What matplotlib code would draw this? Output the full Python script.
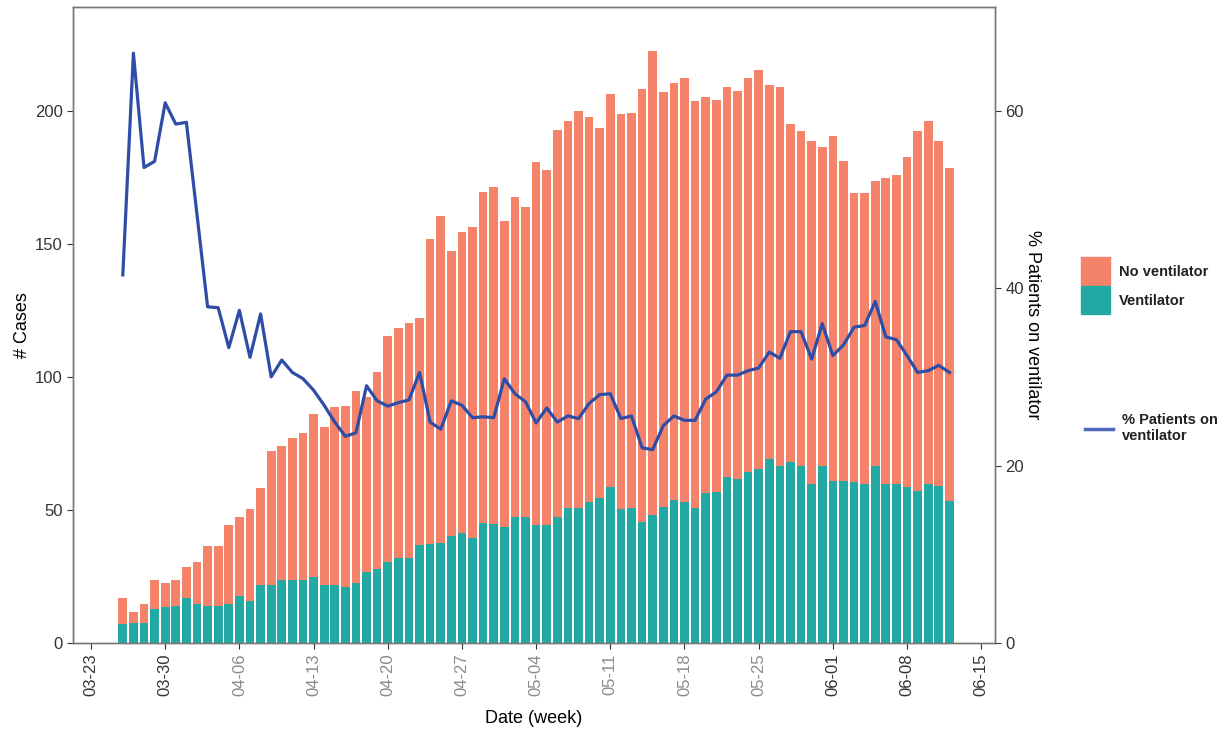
import numpy as np
import pandas as pd
import matplotlib
matplotlib.use('Agg')
import matplotlib.pyplot as plt
import matplotlib.dates as mdates
from matplotlib.patches import Patch
from matplotlib.lines import Line2D

plt.rcParams['font.family'] = ['Liberation Sans', 'DejaVu Sans']

# daily admissions: total cases and those on a ventilator
first_day = '2020-03-26'
total_cases = [17.0, 11.7, 14.5, 23.7, 22.4, 23.7, 28.5, 30.6, 36.5, 36.5,
               44.4, 47.2, 50.2, 58.1, 72.0, 74.2, 77.0, 79.0, 86.0, 81.0,
               88.5, 89.0, 94.7, 92.5, 102.0, 115.2, 118.2, 120.2, 122.3, 151.8,
               160.5, 147.4, 154.4, 156.5, 169.3, 171.5, 158.6, 167.5, 164.0, 180.6,
               177.6, 192.6, 196.2, 200.1, 197.6, 193.5, 206.4, 198.8, 199.1, 208.3,
               222.3, 207.1, 210.3, 212.4, 203.5, 205.0, 204.1, 208.8, 207.3, 212.3,
               215.2, 209.8, 209.1, 195.1, 192.5, 188.5, 186.3, 190.6, 181.3, 169.0,
               169.0, 173.8, 174.7, 175.9, 182.6, 192.5, 196.0, 188.5, 178.5]
vent_cases = [7.1, 7.6, 7.6, 12.7, 13.7, 13.9, 17.0, 14.7, 13.9, 13.9,
              14.7, 17.8, 15.9, 21.8, 21.8, 23.7, 23.7, 23.7, 24.9, 21.8,
              21.8, 21.2, 22.4, 26.5, 27.7, 30.6, 31.8, 31.8, 36.8, 37.2,
              37.7, 40.2, 41.2, 39.4, 45.0, 44.8, 43.5, 47.2, 47.2, 44.4,
              44.4, 47.2, 50.6, 50.6, 53.1, 54.4, 58.5, 50.2, 50.6, 45.6,
              48.1, 51.0, 53.8, 53.1, 50.6, 56.5, 56.9, 62.5, 61.5, 64.4,
              65.3, 69.1, 66.5, 68.2, 66.5, 59.8, 66.5, 60.8, 60.7, 60.5,
              59.8, 66.5, 59.8, 59.8, 58.8, 57.3, 59.8, 59.0, 53.5]
pct_vent = [41.5, 66.5, 53.6, 54.3, 60.9, 58.5, 58.7, 48.3, 37.9, 37.8,
            33.3, 37.5, 32.2, 37.1, 30.0, 31.9, 30.5, 29.8, 28.5, 26.8,
            24.9, 23.3, 23.7, 29.0, 27.3, 26.7, 27.1, 27.4, 30.5, 24.9,
            24.1, 27.3, 26.8, 25.4, 25.5, 25.4, 29.8, 28.1, 27.2, 24.8,
            26.5, 24.9, 25.6, 25.3, 27.0, 28.0, 28.1, 25.3, 25.6, 22.0,
            21.8, 24.5, 25.6, 25.1, 25.1, 27.5, 28.3, 30.2, 30.2, 30.7,
            31.0, 32.8, 32.1, 35.1, 35.1, 32.0, 36.0, 32.4, 33.6, 35.6,
            35.8, 38.5, 34.5, 34.2, 32.4, 30.5, 30.7, 31.3, 30.5]

week_ticks = pd.date_range('2020-03-23', '2020-06-15', freq='7D')
tick_colors = ['#333333', '#333333', '#8a8a8a', '#8a8a8a', '#8a8a8a', '#8a8a8a',
               '#8a8a8a', '#8a8a8a', '#8a8a8a', '#8a8a8a', '#333333', '#333333', '#333333']

orange = '#F4836A'
teal = '#22A9A4'
blue = '#2E4DA7'

dates = pd.date_range(first_day, periods=len(total_cases), freq='D')
vent = np.array(vent_cases)
no_vent = np.array(total_cases) - vent

fig = plt.figure(figsize=(12.32, 7.34), dpi=100)
ax = fig.add_axes([73/1232, 1 - 643/734, (995 - 73)/1232, (643 - 7)/734])

ax.bar(dates, vent, width=0.82, color=teal, linewidth=0)
ax.bar(dates, no_vent, bottom=vent, width=0.82, color=orange, linewidth=0)

ymax = 239
ax.set_ylim(0, ymax)
ax.set_yticks([0, 50, 100, 150, 200])
ax.set_xlim(pd.Timestamp('2020-03-23') - pd.Timedelta(days=1.7),
            pd.Timestamp('2020-03-23') + pd.Timedelta(days=85.3))
ax.set_xticks(week_ticks)
ax.xaxis.set_major_formatter(mdates.DateFormatter('%m-%d'))

ax2 = ax.twinx()
ax2.plot(dates, pct_vent, color=blue, linewidth=2.3, solid_joinstyle='round')
ax2.set_ylim(0, ymax * 0.3)
ax2.set_yticks([0, 20, 40, 60])

for a in (ax, ax2):
    for s in a.spines.values():
        s.set_color('#777777')
        s.set_linewidth(1.0)
    a.tick_params(labelsize=12, colors='#333333', length=4, width=0.8)
for lab, c in zip(ax.get_xticklabels(), tick_colors):
    lab.set_rotation(90)
    lab.set_color(c)

ax.set_ylabel('# Cases', fontsize=13, labelpad=3)
ax.set_xlabel('Date (week)', fontsize=13, labelpad=10)
ax2.set_ylabel('% Patients on ventilator', fontsize=13, rotation=270, labelpad=12)

leg1 = fig.legend(handles=[Patch(color=orange), Patch(color=teal)],
                  labels=['No ventilator', 'Ventilator'],
                  loc='upper left', bbox_to_anchor=(1068/1232, 1 - 244/734),
                  frameon=False, fontsize=10.5, handlelength=2.0, handleheight=2.6,
                  labelspacing=0.05, handletextpad=0.6)
leg2 = fig.legend(handles=[Line2D([], [], color='#5068BC', linewidth=2.5)],
                  labels=['% Patients on\nventilator'],
                  loc='upper left', bbox_to_anchor=(1072/1232, 1 - 400/734),
                  frameon=False, fontsize=10.5, handlelength=1.9, handletextpad=0.6)
for t in leg1.get_texts() + leg2.get_texts():
    t.set_fontweight('bold')
    t.set_color('#222222')

fig.savefig('out.png', dpi=100)
